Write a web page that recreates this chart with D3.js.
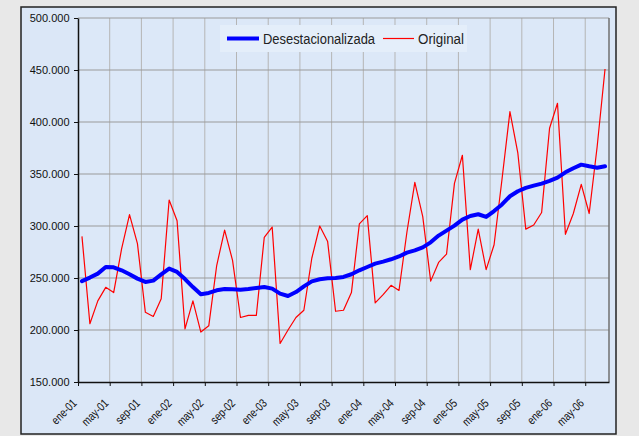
<!DOCTYPE html>
<html><head><meta charset="utf-8">
<script src="https://cdn.jsdelivr.net/npm/d3@7"></script>
<style>
html,body{margin:0;padding:0;background:#e8e8e8;}
svg{display:block;}
</style></head>
<body>
<svg id="chart" width="639" height="436"></svg>
<script>
const monthNames = ["ene","feb","mar","abr","may","jun","jul","ago","sep","oct","nov","dic"];
const years = ["01","02","03","04","05","06"];
const nMonths = 67;
const categories = [];
for (let i = 0; i < nMonths; i++) categories.push(monthNames[i % 12] + "-" + years[Math.floor(i / 12)]);

const original = [290,206,228,241,236,278,311,283,217,213,230,325,305,201,228,198,204,262,296,267,212,214,214,289,299,187,200,212,219,269,300,285,218,219,236,302,310,226,234,243,238,294,342,309,247,265,273,341,368,258,297,258,282,345,410,370,297,301,313,394,418,292,312,340,312,376,451].map(v => v * 1000);
const desest = [247,250.4,254.2,260.6,260.3,257.4,253.6,249.4,246.2,247.5,253.5,259,255.8,249,241.3,234.3,235.6,238.2,239.4,239.1,238.8,239.4,240.4,241.3,239.8,235,232.7,236.5,242,246.8,248.8,249.7,250,251,253.6,257.4,260.6,263.8,265.8,268,270.7,274.4,276.6,279.5,284.3,290.8,295.6,300.4,306.2,309.6,311.3,308.7,314.4,320.7,328.6,333.4,336.6,338.8,340.8,343.3,346.5,351.6,355.5,359,357.4,356.1,357.4].map(v => v * 1000);
const yTicks = [150000,200000,250000,300000,350000,400000,450000,500000];
const seriesNames = ["Desestacionalizada","Original"];

const svg = d3.select("#chart");
const L = 78, R = 609, T = 18, B = 382;
const font = "'Liberation Sans', Arial, sans-serif";

svg.append("rect").attr("x",21).attr("y",7).attr("width",595).attr("height",427)
  .attr("fill","#dbe7f7").attr("stroke","#222").attr("stroke-width",1.5);

const x = d3.scaleLinear().domain([0, nMonths]).range([L, R]);
const y = d3.scaleLinear().domain([150000, 500000]).range([B, T]);
const loc = d3.formatLocale({decimal:",", thousands:".", grouping:[3], currency:["",""]});
const fmt = loc.format(",.0f");

svg.append("rect").attr("x",L).attr("y",T).attr("width",R-L).attr("height",B-T)
  .attr("fill","#dce8f8");

const xTickVals = d3.range(0, nMonths, 4);
svg.append("g").selectAll("line").data(xTickVals.slice(1)).join("line")
  .attr("x1",d=>x(d)).attr("x2",d=>x(d)).attr("y1",T).attr("y2",B)
  .attr("stroke","#b5b5b5").attr("stroke-width",1);
svg.append("g").selectAll("line").data(yTicks.slice(1)).join("line")
  .attr("x1",L).attr("x2",R).attr("y1",d=>y(d)).attr("y2",d=>y(d))
  .attr("stroke","#9a9a9a").attr("stroke-width",1);
svg.append("line").attr("x1",R).attr("x2",R).attr("y1",T).attr("y2",B)
  .attr("stroke","#707070").attr("stroke-width",1.5);

const yAxis = svg.append("g").attr("transform",`translate(${L},0)`)
  .call(d3.axisLeft(y).tickValues(yTicks).tickFormat(fmt).tickSize(4).tickSizeOuter(0));
yAxis.select(".domain").attr("stroke","#111").attr("stroke-width",1.5);
yAxis.selectAll(".tick line").attr("stroke","#111");
yAxis.selectAll("text").attr("font-family",font)
  .attr("font-size",11).attr("fill","#111").attr("x",-8.5);

const xAxis = svg.append("g").attr("transform",`translate(0,${B})`)
  .call(d3.axisBottom(x).tickValues(xTickVals).tickFormat(d=>categories[d]).tickSize(4).tickSizeOuter(0));
xAxis.select(".domain").attr("stroke","#111").attr("stroke-width",1.5);
xAxis.selectAll(".tick line").attr("stroke","#111");
xAxis.selectAll("text")
  .attr("font-family",font)
  .attr("font-size",12).attr("fill","#111")
  .attr("text-anchor","end").attr("y",0).attr("dy",0)
  .attr("textLength",function(){ return this.getComputedTextLength() * 0.8; })
  .attr("lengthAdjust","spacingAndGlyphs")
  .attr("transform","translate(-1,22) rotate(-45)");

const line = d3.line().x((d,i)=>x(i+0.5)).y(d=>y(d));
svg.append("path").datum(original).attr("d",line).attr("fill","none")
  .attr("stroke","#ff0000").attr("stroke-width",1.2).attr("stroke-linejoin","round");
svg.append("path").datum(desest).attr("d",line).attr("fill","none")
  .attr("stroke","#0000ff").attr("stroke-width",4).attr("stroke-linejoin","round").attr("stroke-linecap","round");

const lg = svg.append("g");
lg.append("rect").attr("x",220).attr("y",25).attr("width",247).attr("height",27).attr("fill","#e4eefa");
lg.append("line").attr("x1",227).attr("x2",259).attr("y1",38.5).attr("y2",38.5).attr("stroke","#0000ff").attr("stroke-width",4);
lg.append("text").attr("x",263).attr("y",44).text(seriesNames[0])
  .attr("font-family",font).attr("font-size",15.5).attr("fill","#222")
  .attr("textLength",112).attr("lengthAdjust","spacingAndGlyphs");
lg.append("line").attr("x1",383).attr("x2",414).attr("y1",38.5).attr("y2",38.5).attr("stroke","#ff0000").attr("stroke-width",1.2);
lg.append("text").attr("x",418).attr("y",44).text(seriesNames[1])
  .attr("font-family",font).attr("font-size",15.5).attr("fill","#222")
  .attr("textLength",46).attr("lengthAdjust","spacingAndGlyphs");
</script>
</body></html>
